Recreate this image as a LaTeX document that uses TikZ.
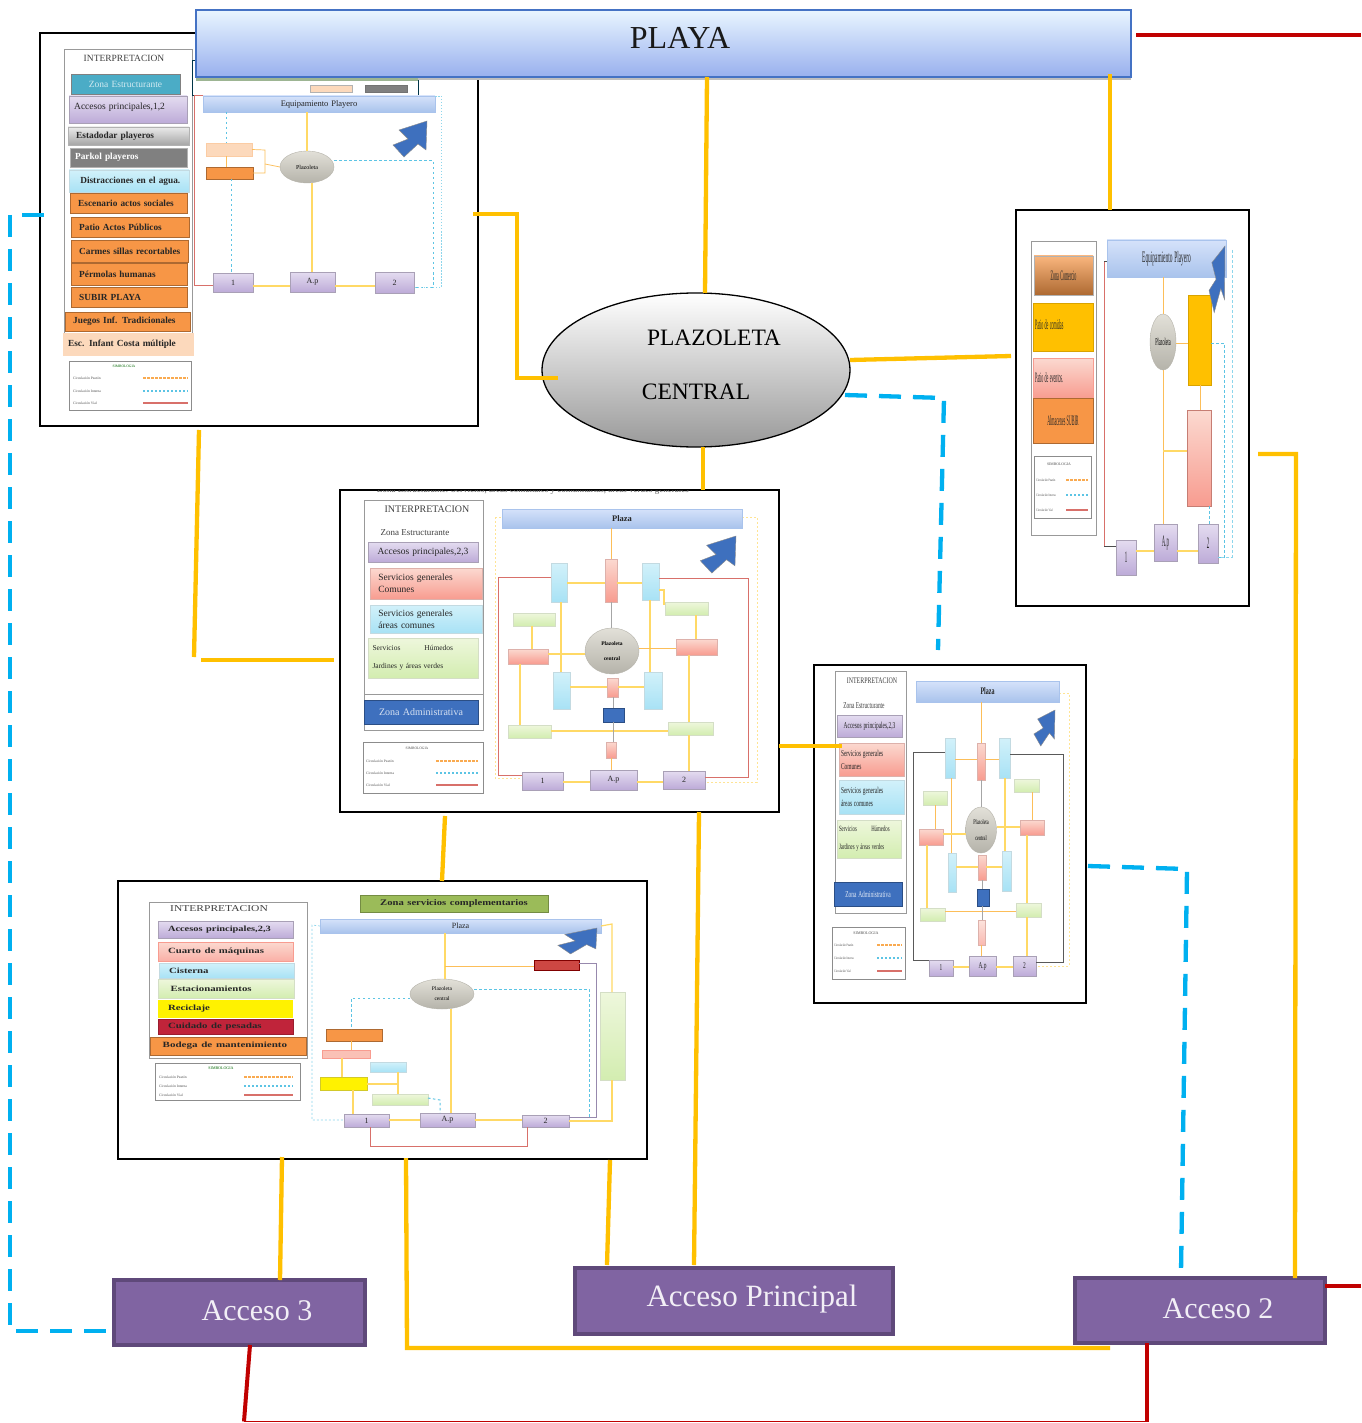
\documentclass[tikz,border=0pt]{standalone}
\usepackage{graphicx}
\usepackage{fontspec}
\setmainfont{Liberation Serif}
\usetikzlibrary{shapes.geometric}
\definecolor{ylw}{HTML}{FFC000}
\definecolor{blu}{HTML}{00B0F0}
\definecolor{rdd}{HTML}{C00000}
\definecolor{prp}{HTML}{8064A2}
\definecolor{prpd}{HTML}{5F497A}
\definecolor{lilA}{HTML}{E4DCF0}
\definecolor{lilB}{HTML}{BDABD8}
\definecolor{salA}{HTML}{FBD9D0}
\definecolor{salB}{HTML}{F89C90}
\definecolor{skyA}{HTML}{D2F1FA}
\definecolor{skyB}{HTML}{A8E2F5}
\definecolor{limA}{HTML}{EEF7DC}
\definecolor{limB}{HTML}{D3EDB0}
\definecolor{orn}{HTML}{F79646}
\definecolor{pch}{HTML}{FCD9BC}
\definecolor{barA}{HTML}{D5E2FA}
\definecolor{barB}{HTML}{A9C3EC}
\definecolor{gryA}{HTML}{E2E0D8}
\definecolor{gryB}{HTML}{B5B3AA}
\definecolor{arr}{HTML}{3E70BE}
\definecolor{fy}{HTML}{FFD966}
\definecolor{fb}{HTML}{5CC4E4}
\definecolor{fr}{HTML}{D8706A}
\definecolor{teal1}{HTML}{4BACC6}
\definecolor{grnstrip}{HTML}{9DB593}
\definecolor{crim}{HTML}{C0243A}
\definecolor{oliv}{HTML}{9BBB59}
\definecolor{pbord}{HTML}{4472C4}
\newcommand\fs[1]{\fontsize{#1}{#1}\selectfont}
\newcommand\sq[2]{\scalebox{#1}[1]{#2}}
\newcommand\bx[7]{\node[bxbase,#1,minimum width={(#5-#3)*1pt},minimum height={(#6-#4)*1pt},text width={max((#5-#3-4),0.1)*1pt}] (#2) at ({(#3+#5)/2},{(#4+#6)/2}) {#7};}
\newcommand\vln[4]{\draw[#1] (#2,0 |- #3.south) -- (#2,0 |- #4.north);}
\newcommand\hln[4]{\draw[#1] (#3.east |- 0,#2) -- (#4.west |- 0,#2);}
\newcommand\narrow[4]{\path[fill=arr,draw=black!45,line width=.4pt,shift={(#1,#2)},xscale=#3,yscale=#4] (0,0) -- (-28,9) -- (-19,18) -- (-34,24) -- (-23,36) -- (-9,23) -- (-1,29) -- cycle;}
\newcommand\lrow[7]{\node[lgt,anchor=west] (#1) at (#2,#3) {#7}; \draw[#6] (#4,#3) -- (#5,#3);}
\tikzset{
  x=1pt,y=-1pt,
  frame/.style={rectangle,draw=black,line width=1.5pt,fill=white,outer sep=0pt,inner sep=0pt},
  yl/.style={draw=ylw,line width=4.3pt},
  bl/.style={draw=blu,line width=4.3pt,dash pattern=on 22pt off 12pt},
  rd/.style={draw=rdd,line width=4pt},
  acc/.style={rectangle,fill=prp,draw=prpd,line width=3.5pt,text=white!90!prp,font=\fs{30},outer sep=0pt},
  bxbase/.style={rectangle,inner xsep=2pt,inner ysep=0pt,outer sep=0pt,align=left,font=\fs{8},text=black!85,draw=black!30,line width=.4pt},
  ctr/.style={align=center},
  lil/.style={top color=lilA,bottom color=lilB,draw=lilB!70!black!70},
  sal/.style={top color=salA,bottom color=salB,draw=salB!80!black!60},
  sky/.style={top color=skyA,bottom color=skyB,draw=skyB!80!black!50},
  lim/.style={top color=limA,bottom color=limB,draw=limB!80!black!50},
  org/.style={fill=orn,draw=orn!70!black},
  bar/.style={top color=barA,bottom color=barB,draw=barB},
  pan/.style={rectangle,draw=black!40,line width=.7pt,fill=white},
  lgn/.style={rectangle,draw=black!45,line width=.7pt,fill=white},
  el/.style={ellipse,top color=gryA,bottom color=gryB,draw=gryB,line width=.4pt,inner sep=0pt,outer sep=0pt,align=center},
  lgt/.style={font=\fs{3.6},text=black!70,inner sep=0pt},
  ttl/.style={font=\fs{9.5},text=black!75,inner sep=0pt},
  ty/.style={draw=fy,line width=1.6pt},
  tn/.style={draw=fy!60!orn,line width=.7pt},
  tb/.style={draw=fb,line width=1pt,dash pattern=on 2.5pt off 2.5pt},
  tr/.style={draw=fr,line width=1pt},
  tg/.style={draw=black!35,line width=.8pt},
  lgy/.style={draw=orn!70!fy,line width=1.1pt,dash pattern=on 3pt off 1pt},
  lgb/.style={draw=fb,line width=1.1pt,dash pattern=on 2pt off 2pt},
  lgr/.style={draw=fr,line width=1.2pt},
  fd/.style={draw=fy!70,line width=.6pt,dash pattern=on 2pt off 2pt},
  bold9/.style={font={\fs{9.3}\bfseries}},
}
\begin{document}
\begin{tikzpicture}
\useasboundingbox (0,0) rectangle (1361,1423);
\fill[white] (0,0) rectangle (1361,1423);
% frames
\node[frame,minimum width=438pt,minimum height=393pt] (f1) at (259,229.5) {};
\node[frame,minimum width=233pt,minimum height=396pt] (f2) at (1132.5,408) {};
\node[frame,minimum width=439pt,minimum height=322pt] (f3) at (559.5,651) {};
\node[frame,minimum width=272pt,minimum height=338pt] (f4) at (950,834) {};
\node[frame,minimum width=529pt,minimum height=278pt] (f5) at (382.5,1020) {};

% ===== thumbnail 1 =====
\node[pan,minimum width=128pt,minimum height=306pt] (p1) at (128,202) {};
\node[ttl] (t1) at (124,58) {INTERPRETACION};
\bx{fill=black!0,draw=black!70!blu,line width=.8pt}{a1z}{192}{60}{418}{95}{}
\bx{fill=pch}{a1p}{310}{85}{352}{92}{}
\bx{fill=black!50,draw=black!55}{a1g}{365}{85}{407}{92}{}
\bx{fill=teal1,draw=black!50,ctr,font=\fs{9.5},text=white!75!teal1}{a1}{71}{74}{180}{94}{Zona Estructurante}
\bx{lil,font=\fs{9.5}}{a2}{69}{96}{187}{123}{\raisebox{7pt}{\ Accesos principales,1,2}}
\bx{top color=black!8,bottom color=black!35,bold9}{a3}{68}{127}{189}{145}{\ \ Estadodar playeros}
\bx{fill=black!50,text=white,bold9}{a4}{70}{148}{187}{167}{\ Parkol playeros}
\bx{sky,bold9}{a5}{69}{170}{189}{192}{\ \ \ Distracciones en el agua.}
\bx{org,bold9}{a6}{70}{193}{187}{213}{\ \ Escenario actos sociales}
\bx{org,bold9}{a7}{71}{217}{189}{237}{\ \ Patio Actos Públicos}
\bx{org,bold9}{a8}{71}{240}{188}{262}{\ \ Carmes sillas recortables}
\bx{org,bold9}{a9}{71}{263}{187}{285}{\ \ Pérmolas humanas}
\bx{org,bold9}{a10}{71}{287}{187}{307}{\ \ SUBIR PLAYA}
\bx{org,bold9}{a11}{65}{312}{190}{331}{\ \ Juegos Inf. Tradicionales}
\bx{fill=pch,draw=pch,bold9}{a12}{63}{333}{193}{355}{\ Esc. Infant Costa múltiple}
\node[lgn,minimum width=122pt,minimum height=49pt] (l1) at (130,385.5) {};
\node[lgt,text=black!60!green] (l1t) at (124,366) {SIMBOLOGIA};
\lrow{l1a}{73}{378}{143}{188}{lgy}{Circulación Peatón}
\lrow{l1b}{73}{391}{143}{188}{lgb}{Circulación Interna}
\lrow{l1c}{73}{403}{143}{188}{lgr}{Circulación Vial}

\bx{bar,ctr,font=\fs{8.5}}{b1}{203}{96}{435}{112}{Equipamiento Playero}
\bx{fill=pch,draw=pch!80!orn}{b2}{206}{143}{252}{156}{}
\bx{org}{b3}{206}{167}{253}{179}{}
\node[el,minimum width=54pt,minimum height=32pt,font=\fs{6}] (b4) at (307,167) {Plazoleta};
\bx{lil,ctr}{b5}{213}{273}{253}{292}{1}
\bx{lil,ctr}{b6}{290}{272}{335}{292}{A.p}
\bx{lil,ctr}{b7}{375}{272}{414}{293}{2}
\narrow{427}{121}{1}{1}
\vln{ty}{307}{b1}{b4}
\vln{ty}{312}{b4}{b6}
\hln{ty}{286}{b5}{b6}
\hln{ty}{286}{b6}{b7}
\vln{tb}{226}{b1}{b2}
\vln{tb}{231}{b3}{b5}
\vln{tn}{226}{b2}{b3}
\draw[tn] (b2.east) -- (265,150) -- (265,173) -- (b3.east);
\draw[tn] (265,164) -- (b4.west);
\draw[tr] (b1.north west) -- (194,96) -- (194,285) -- (b5.west |- 0,285);
\draw[tb] (b4.east |- 0,161) -- (433,161) -- (433,287) -- (b7.east |- 0,287);
\draw[draw=fb!70,line width=.8pt,dash pattern=on 1.5pt off 1.5pt] (b1.north east) -- (441,96) -- (441,287) -- (b7.east |- 0,287);

% ===== thumbnail 3 =====
\begin{scope}
\clip (341,490.5) rectangle (778,497);
\node[font=\fs{9},text=black!65,inner sep=0pt] (ct) at (533,490) {Zona Estructurante. Servicios, áreas comunales y comunitarias, áreas verdes generales};
\end{scope}
\node[pan,minimum width=119pt,minimum height=230pt] (p3) at (423.5,615) {};
\node[ttl,font=\fs{10}] (t3) at (427,509) {INTERPRETACION};
\node[ttl,font=\fs{9}] (t3b) at (415,533) {Zona Estructurante};
\bx{lil,ctr,font=\fs{9.5}}{c1}{368}{542}{478}{562}{Accesos principales,2,3}
\bx{sal,font={\fontsize{9.5}{12}\selectfont}}{c2}{370}{568}{482}{599}{\ \ Servicios generales\\\ \ Comunes}
\bx{sky,font={\fontsize{9.5}{12}\selectfont}}{c3}{370}{605}{482}{633}{\ \ Servicios generales\\\ \ áreas comunes}
\bx{lim,font={\fontsize{7.5}{18}\selectfont}}{c4}{368}{638}{478}{678}{\ Servicios\hspace{24pt}Húmedos\\\ Jardines y áreas verdes}
\bx{fill=arr,draw=arr!70!black,ctr,text=white!80!arr,font=\fs{10}}{c5}{364}{700}{478}{724}{Zona Administrativa}
\draw[draw=black!40,line width=.7pt] (364,694) -- (483,694);
\node[lgn,minimum width=120pt,minimum height=51pt] (l3) at (423,767.5) {};
\node[lgt] (l3t) at (417,748) {SIMBOLOGIA};
\lrow{l3a}{366}{761}{436}{478}{lgy}{Circulación Peatón}
\lrow{l3b}{366}{773}{436}{478}{lgb}{Circulación Interna}
\lrow{l3c}{366}{785}{436}{478}{lgr}{Circulación Vial}

\draw[fd] (495,517) -- (502,517);
\draw[fd] (495,517) -- (495,778) -- (522,778);
\draw[fd] (742,517) -- (757,517) -- (757,782) -- (705,782);
\bx{bar,ctr,font={\fs{8.5}\bfseries}}{d1}{502}{509}{742}{528}{Plaza}
\bx{sky}{d2}{551}{563}{567}{602}{}
\bx{sal}{d3}{605}{559}{617}{602}{}
\bx{sky}{d4}{642}{563}{659}{600}{}
\bx{lim}{d5}{665}{602}{708}{615}{}
\bx{lim}{d6}{513}{613}{555}{626}{}
\bx{sal}{d7}{508}{649}{548}{664}{}
\bx{sal}{d8}{676}{639}{717}{655}{}
\node[el,minimum width=54pt,minimum height=46pt,font={\fontsize{5.5}{15}\selectfont\bfseries}] (d9) at (612,651) {Plazoleta\\central};
\bx{sky}{d10}{553}{672}{570}{709}{}
\bx{sky}{d11}{644}{672}{662}{709}{}
\bx{sal}{d12}{607}{678}{618}{697}{}
\bx{fill=arr,draw=arr!70!black}{d13}{603}{708}{624}{722}{}
\bx{sal}{d14}{606}{742}{616}{758}{}
\bx{lim}{d15}{508}{725}{551}{738}{}
\bx{lim}{d16}{668}{722}{713}{735}{}
\bx{lil,ctr}{d17}{522}{772}{563}{790}{1}
\bx{lil,ctr}{d18}{590}{770}{637}{790}{A.p}
\bx{lil,ctr}{d19}{663}{771}{705}{789}{2}
\narrow{736}{536}{1.05}{1.03}
\vln{tn}{611}{d1}{d3}
\vln{tg}{611}{d3}{d9}
\hln{ty}{583}{d2}{d3}
\hln{ty}{583}{d3}{d4}
\vln{ty}{561}{d2}{d10}
\vln{ty}{650}{d4}{d11}
\draw[ty] (d4.east |- 0,590) -- (664,590) -- (664,605);
\vln{ty}{532}{d6}{d7}
\vln{ty}{696}{d5}{d8}
\hln{ty}{654}{d7}{d9}
\hln{tn}{648}{d9}{d8}
\hln{ty}{687}{d10}{d12}
\hln{ty}{687}{d12}{d11}
\vln{ty}{520}{d7}{d15}
\vln{ty}{689}{d8}{d16}
\hln{ty}{731}{d15}{d16}
\vln{ty}{689}{d16}{d19}
\vln{tg}{613}{d12}{d13}
\vln{tg}{613}{d13}{d14}
\vln{tn}{611}{d14}{d18}
\hln{ty}{782}{d17}{d18}
\hln{ty}{782}{d18}{d19}
\draw[tr] (d2.west |- 0,577) -- (498,577) -- (498,775) -- (d17.west |- 0,775);
\draw[tr] (d4.east |- 0,578) -- (748,578) -- (748,777) -- (d19.east |- 0,777);

% ===== thumbnail 4 =====
\node[pan,minimum width=71pt,minimum height=242pt] (p4) at (870.5,792) {};
\node[ttl,font=\fs{8.5}] (t4) at (872,681) {\sq{.7}{INTERPRETACION}};
\node[ttl,font=\fs{9}] (t4b) at (864,706) {\sq{.6}{Zona Estructurante}};
\bx{lil,ctr,font=\fs{9}}{e1}{837}{715}{902}{737}{\sq{.6}{Accesos principales,2,3}}
\bx{sal,font={\fontsize{9}{13}\selectfont}}{e2}{839}{743}{904}{776}{\sq{.6}{Servicios generales}\\\sq{.6}{Comunes}}
\bx{sky,font={\fontsize{9}{13}\selectfont}}{e3}{839}{780}{904}{814}{\sq{.6}{Servicios generales}\\\sq{.6}{áreas comunes}}
\bx{lim,font={\fontsize{8}{18}\selectfont}}{e4}{837}{820}{901}{858}{\sq{.6}{Servicios\hspace{24pt}Húmedos}\\\sq{.6}{Jardines y áreas verdes}}
\bx{fill=arr,draw=arr!70!black,ctr,text=white!85!arr,font=\fs{9}}{e5}{834}{882}{902}{906}{\sq{.6}{Zona Administrativa}}
\node[lgn,minimum width=73pt,minimum height=52pt] (l4) at (868.5,953) {};
\node[lgt,font=\fs{4}] (l4t) at (866,933) {SIMBOLOGIA};
\lrow{l4a}{834}{945}{877}{902}{lgy}{\sq{.7}{Circulación Peatón}}
\lrow{l4b}{834}{958}{877}{902}{lgb}{\sq{.7}{Circulación Interna}}
\lrow{l4c}{834}{971}{877}{902}{lgr}{\sq{.7}{Circulación Vial}}

\draw[fd] (1059,693) -- (1069,693) -- (1069,966) -- (1036,966);
\bx{bar,ctr,font={\fs{10}\bfseries}}{g1}{916}{681}{1059}{702}{\sq{.6}{Plaza}}
\bx{sky}{g2}{945}{738}{955}{778}{}
\bx{sal}{g3}{977}{743}{985}{780}{}
\bx{sky}{g4}{999}{738}{1010}{778}{}
\bx{lim}{g5}{1014}{779}{1039}{792}{}
\bx{lim}{g6}{923}{791}{947}{805}{}
\bx{sal}{g7}{919}{829}{943}{845}{}
\bx{sal}{g8}{1020}{820}{1044}{835}{}
\node[el,minimum width=31pt,minimum height=46pt,font={\fontsize{7}{16}\selectfont}] (g9) at (981,830) {\sq{.6}{Plazoleta}\\\sq{.6}{central}};
\bx{sky}{g10}{948}{853}{956}{892}{}
\bx{sky}{g11}{1002}{851}{1011}{891}{}
\bx{sal}{g12}{978}{855}{986}{880}{}
\bx{fill=arr,draw=arr!70!black}{g13}{977}{889}{989}{906}{}
\bx{lim}{g14}{920}{908}{945}{921}{}
\bx{lim}{g15}{1016}{903}{1041}{917}{}
\bx{sal,fill opacity=.7}{g16}{978}{920}{985}{945}{}
\bx{lil,ctr,font=\fs{9}}{g17}{929}{960}{953}{976}{\sq{.6}{1}}
\bx{lil,ctr,font=\fs{9}}{g18}{969}{956}{996}{976}{\sq{.6}{A.p}}
\bx{lil,ctr,font=\fs{9}}{g19}{1013}{956}{1036}{976}{\sq{.6}{2}}
\narrow{1055}{710}{.62}{1}
\vln{tn}{981}{g1}{g3}
\vln{tg}{981}{g3}{g9}
\hln{tn}{759}{g2}{g3}
\hln{tn}{759}{g3}{g4}
\vln{tn}{951}{g2}{g10}
\vln{ty}{1005}{g4}{g11}
\vln{tn}{935}{g6}{g7}
\vln{tn}{1032}{g5}{g8}
\hln{ty}{834}{g7}{g9}
\hln{ty}{827}{g9}{g8}
\hln{ty}{867}{g10}{g12}
\hln{ty}{867}{g12}{g11}
\vln{ty}{927}{g7}{g14}
\vln{ty}{1027}{g8}{g15}
\hln{tn}{911}{g14}{g15}
\vln{ty}{1027}{g15}{g19}
\vln{tg}{982}{g12}{g13}
\vln{tg}{982}{g13}{g16}
\vln{tn}{981}{g16}{g18}
\hln{ty}{967}{g17}{g18}
\hln{ty}{967}{g18}{g19}
\draw[draw=black!65,line width=.9pt] (g2.west |- 0,752) -- (913,752) -- (913,960) -- (g17.west |- 0,960);
\draw[draw=black!65,line width=.9pt] (g4.east |- 0,754) -- (1063,754) -- (1063,962) -- (g19.east |- 0,962);

% ===== thumbnail 2 =====
\node[pan,minimum width=65pt,minimum height=294pt] (p2) at (1063.5,388) {};
\bx{top color=orn!70,bottom color=orn!70!black,ctr,font=\fs{9}}{h1}{1034}{256}{1093}{295}{\scalebox{.45}[1.6]{Zona Comercio}}
\bx{fill=ylw,draw=ylw!85!black,font=\fs{9}}{h2}{1033}{303}{1093}{351}{\raisebox{5pt}{\scalebox{.45}[1.6]{Patio de comidas}}}
\bx{top color=salA,bottom color=salB,draw=salB,font=\fs{9}}{h3}{1033}{358}{1093}{398}{\scalebox{.45}[1.6]{Patio de eventos.}}
\bx{org,ctr,font=\fs{9}}{h4}{1033}{398}{1093}{443}{\scalebox{.45}[1.6]{Almacenes SUBIR}}
\node[lgn,minimum width=57pt,minimum height=62pt] (l2) at (1062.5,487) {};
\node[lgt,font=\fs{3.8}] (l2t) at (1059,464) {SIMBOLOGIA};
\lrow{l2a}{1036}{480}{1066}{1088}{lgy}{\sq{.7}{Circulación Peatón}}
\lrow{l2b}{1036}{495}{1066}{1088}{lgb}{\sq{.7}{Circulación Interna}}
\lrow{l2c}{1036}{510}{1066}{1088}{lgr}{\sq{.7}{Circulación Vial}}

\bx{bar,ctr,font=\fs{10}}{i1}{1107}{240}{1226}{277}{\scalebox{.54}[1.6]{Equipamiento Playero}}
\node[el,minimum width=26pt,minimum height=56pt,font=\fs{7}] (i2) at (1163,342) {\scalebox{.6}[1.5]{Plazoleta}};
\bx{fill=ylw,draw=ylw!85!black}{i3}{1188}{295}{1211}{385}{}
\bx{top color=salA,bottom color=salB,draw=salB!80!black}{i4}{1187}{410}{1211}{506}{}
\bx{lil,ctr,font=\fs{8}}{i5}{1116}{540}{1136}{575}{\scalebox{.6}[2]{1}}
\bx{lil,ctr,font=\fs{8}}{i6}{1154}{524}{1177}{561}{\scalebox{.6}[2]{A.p}}
\bx{lil,ctr,font=\fs{8}}{i7}{1198}{524}{1218}{563}{\scalebox{.6}[2]{2}}
\narrow{1225}{246}{.47}{1.85}
\vln{tn}{1163}{i1}{i2}
\vln{tn}{1163}{i2}{i6}
\hln{tn}{343}{i2}{i3}
\draw[ty] (1163,451) -- (i4.west |- 0,451);
\vln{tn}{1200}{i3}{i4}
\hln{ty}{551}{i5}{i6}
\hln{ty}{551}{i6}{i7}
\vln{tb}{1209}{i4}{i7}
\draw[tr] (1104,261) -- (1104,546);
\draw[draw=black!70,line width=1pt] (i1.west |- 0,261) -- (1104,261);
\draw[draw=black!70,line width=1pt] (1104,546) -- (i5.west |- 0,546);
\draw[tb] (i3.east |- 0,343) -- (1224,343) -- (1224,557) -- (i7.east |- 0,557);
\draw[draw=fb!70,line width=.7pt,dash pattern=on 3pt off 2pt] (1232,250) -- (1232,557) -- (i7.east |- 0,557);

% ===== thumbnail 5 =====
\node[pan,minimum width=158pt,minimum height=156pt] (p5) at (228,980) {};
\node[ttl,font=\fs{9}] (t5) at (219,909) {\sq{1.28}{INTERPRETACION}};
\tikzset{f5t/.style={font={\fs{8}\bfseries}}}
\bx{lil,f5t}{j1}{158}{921}{293}{938}{\ \ \ \sq{1.3}{Accesos principales,2,3}}
\bx{top color=salA,bottom color=salB!80!white,draw=salB,f5t}{j2}{158}{942}{293}{961}{\ \ \ \sq{1.35}{Cuarto de máquinas}}
\bx{sky,f5t}{j3}{159}{963}{294}{978}{\ \ \ \sq{1.35}{Cisterna}}
\bx{lim,f5t}{j4}{158}{979}{294}{998}{\ \ \ \ \sq{1.35}{Estacionamientos}}
\bx{fill=yellow,draw=yellow,f5t}{j5}{158}{1000}{292}{1017}{\ \ \ \sq{1.35}{Reciclaje}}
\bx{fill=crim,draw=crim!80!black,f5t}{j6}{158}{1019}{293}{1034}{\ \ \ \sq{1.35}{Cuidado de pesadas}}
\bx{org,f5t}{j7}{150}{1037}{306}{1055}{\ \ \ \ \sq{1.38}{Bodega de mantenimiento}}
\node[lgn,minimum width=145pt,minimum height=37pt] (l5) at (227.5,1081.5) {};
\node[lgt,text=black!60!green,font=\fs{4}] (l5t) at (221,1068) {SIMBOLOGIA};
\lrow{l5a}{159}{1077}{244}{293}{lgy}{Circulación Peatón}
\lrow{l5b}{159}{1086}{244}{293}{lgb}{Circulación Interna}
\lrow{l5c}{159}{1095}{244}{293}{lgr}{Circulación Vial}

\bx{fill=oliv,draw=oliv!75!black,ctr,font={\fs{8.5}\bfseries}}{k0}{360}{895}{548}{912}{\sq{1.25}{Zona servicios complementarios}}
\bx{bar,ctr,font=\fs{8}}{k1}{320}{919}{601}{933}{Plaza\hspace{10pt}}
\node[el,minimum width=64pt,minimum height=30pt,font={\fontsize{5.5}{10}\selectfont}] (k2) at (442,994) {Plazoleta\\central};
\bx{fill=fr!70!red!90!black,draw=red!50!black}{k3}{534}{960}{579}{970}{}
\bx{lim}{k4}{600}{992}{625}{1080}{}
\bx{org}{k5}{326}{1029}{382}{1041}{}
\bx{fill=salA!60!salB,draw=salB}{k6}{322}{1050}{370}{1058}{}
\bx{sky}{k7}{370}{1062}{406}{1072}{}
\bx{fill=yellow,draw=yellow!80!black}{k8}{320}{1077}{367}{1090}{}
\bx{lim}{k9}{372}{1094}{428}{1105}{}
\bx{lil,ctr}{k10}{344}{1114}{389}{1127}{1}
\bx{lil,ctr}{k11}{420}{1113}{475}{1127}{A.p}
\bx{lil,ctr}{k12}{522}{1115}{569}{1127}{2}
\narrow{597}{928}{1.15}{.72}
\vln{ty}{445}{k1}{k2}
\vln{ty}{451}{k2}{k11}
\draw[tn] (445,966) -- (k3.west |- 0,966);
\vln{tn}{351}{k5}{k6}
\vln{ty}{342}{k6}{k8}
\vln{ty}{353}{k8}{k10}
\draw[ty] (k8.east |- 0,1084) -- (398,1084);
\draw[ty] (398,1072) -- (398,1094);
\draw[tb] (k9.east |- 0,1098) -- (440,1100) -- (440,1113);
\hln{ty}{1120}{k10}{k11}
\hln{ty}{1120}{k11}{k12}
\draw[tb] (k2.west |- 0,998) -- (351,998) -- (351,1029);
\draw[tb] (k2.east |- 0,989) -- (589,989) -- (589,1117) -- (k12.east |- 0,1117);
\draw[draw=fb!70,line width=.7pt,dash pattern=on 2pt off 2pt] (k1.west) -- (312,925) -- (312,1120) -- (k10.west |- 0,1120);
\draw[draw=lilB!80!black,line width=1pt] (k3.east |- 0,963) -- (596,963) -- (596,1117) -- (k12.east |- 0,1117);
\draw[ty,line width=1.2pt] (k1.east) -- (612,924) -- (612,992);
\draw[ty,line width=1.2pt] (612,1080) -- (612,1121) -- (k12.east |- 0,1121);
\draw[tr] (370,1127) -- (370,1146) -- (527,1146) -- (527,1127);

% ===== main nodes =====
\node[rectangle,fill=black!25,minimum width=935pt,minimum height=4pt,inner sep=0pt] (ps) at (663.5,78.5) {};
\node[rectangle,fill=grnstrip,minimum width=222pt,minimum height=3pt,inner sep=0pt] (gs) at (307,80) {};
\node[rectangle,top color=blue!4!white!95!cyan,bottom color=barB!90!blue,draw=pbord,line width=1.3pt,minimum width=935pt,minimum height=67pt,inner sep=0pt,outer sep=0pt] (playa) at (663.5,43.5) {};
\node[font=\fs{32},text=black!90,inner sep=0pt] (playat) at (680,38) {PLAYA};
\node[ellipse,top color=white,bottom color=black!40,draw=black,line width=1.3pt,minimum width=308pt,minimum height=154pt,inner sep=0pt,outer sep=0pt] (plaz) at (696,370) {};
\node[font=\fs{23.5},inner sep=0pt] (plazt1) at (714,338) {PLAZOLETA};
\node[font=\fs{23.5},inner sep=0pt] (plazt2) at (696,392) {CENTRAL};
\node[acc,minimum width=251pt,minimum height=65pt,inner sep=0pt] (ac3) at (239.5,1312.5) {};
\node[acc,draw=none,fill=none,inner sep=0pt] (ac3t) at (257,1311) {Acceso 3};
\node[acc,minimum width=318pt,minimum height=66pt,inner sep=0pt] (acp) at (734,1301) {};
\node[acc,draw=none,fill=none,inner sep=0pt,font=\fs{31}] (acpt) at (752,1299) {Acceso Principal};
\node[acc,minimum width=250pt,minimum height=65pt,inner sep=0pt] (ac2) at (1200,1310.5) {};
\node[acc,draw=none,fill=none,inner sep=0pt] (ac2t) at (1218,1309) {Acceso 2};

% free ends
\coordinate (rE1) at (1361,35);
\coordinate (rE2) at (1361,1286);
\coordinate (yA) at (473,214);
\coordinate (yB) at (558,378);
\coordinate (yC) at (199,430);
\coordinate (yD) at (194,657);
\coordinate (yE) at (201,660);
\coordinate (yF) at (334,660);
\coordinate (yG) at (1110,1348);
\coordinate (bA) at (845,395);
\coordinate (bB) at (938,650);
\coordinate (bC) at (1088,866);
\coordinate (bD) at (1181,1272);
\coordinate (bE) at (44,215);
\coordinate (bF) at (110,1331);
\coordinate (rB1) at (244,1421.5);
\coordinate (rB2) at (1147,1421.5);

% main connectors
\draw[yl] (707,0 |- playa.south) -- (705,0 |- plaz.north);
\draw[yl] (1110,74) -- (1110,0 |- f2.north);
\draw[yl] (yA) -- (517,214) -- (517,378) -- (yB);
\draw[yl] (plaz.east |- 0,360) -- (1011,356);
\draw[yl] (703,0 |- plaz.south) -- (703,0 |- f3.north);
\draw[yl] (yC) -- (yD);
\draw[yl] (yE) -- (yF);
\draw[yl] (445,816) -- (442,0 |- f5.north);
\draw[yl] (f3.east |- 0,746) -- (842,746);
\draw[yl] (699,0 |- f3.south) -- (694,1265);
\draw[yl] (282,1157) -- (280,0 |- ac3.north);
\draw[yl] (610,1160) -- (607,1265);
\draw[yl] (406,1158) -- (407,1348) -- (yG);
\draw[yl] (1258,454) -- (1296,454) -- (1295,0 |- ac2.north);
\draw[bl] (bA) -- (944,398) -- (bB);
\draw[bl] (bC) -- (1187,869) -- (bD);
\draw[bl] (bE) -- (10,215) -- (10,1331) -- (bF);
\draw[rd] (1136,35) -- (rE1);
\draw[rd] (ac2.east |- rE2) -- (rE2);
\draw[rd] (250,0 |- ac3.south) -- (rB1);
\draw[rd] (1147,0 |- ac2.south) -- (rB2);
\draw[draw=rdd,line width=1.5pt] (rB1) -- (rB2);
\end{tikzpicture}
\end{document}
